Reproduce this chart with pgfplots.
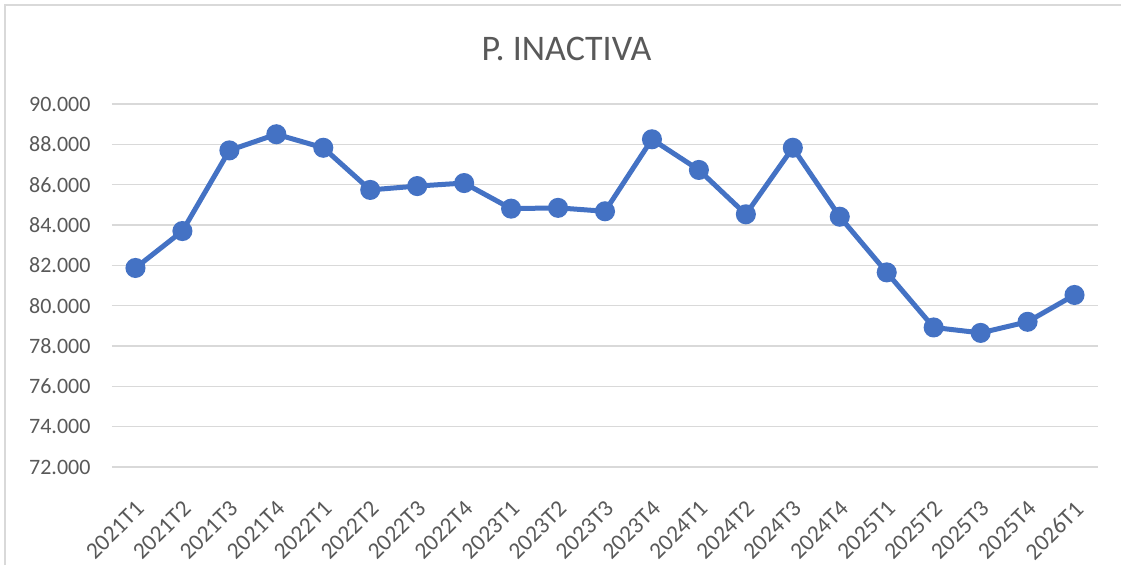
\documentclass[border=0pt]{standalone}
\usepackage{pgfplots}
\pgfplotsset{compat=1.18}
\usepackage{fontspec}
\setmainfont{Carlito}
\definecolor{linecol}{HTML}{4472C4}
\definecolor{gridcol}{HTML}{D9D9D9}
\definecolor{textcol}{HTML}{595959}
\begin{document}
\begin{tikzpicture}
\begin{axis}[
  anchor=south west, at={(0pt,0pt)},
  scale only axis, width=986pt, height=363pt,
  xmin=-0.5, xmax=20.5, ymin=72, ymax=90,
  ytick={72,74,...,90},
  xtick={0,...,20},
  xticklabels={2021T1,2021T2,2021T3,2021T4,2022T1,2022T2,2022T3,2022T4,2023T1,2023T2,2023T3,2023T4,2024T1,2024T2,2024T3,2024T4,2025T1,2025T2,2025T3,2025T4,2026T1},
  x tick label style={font=\fontsize{23.5}{28}\selectfont, text=textcol, inner sep=1pt, yshift=-31pt, xshift=-1pt, rotate=45, anchor=north east},
  y tick label style={font=\fontsize{22}{26}\selectfont, text=textcol, xshift=-18pt},
  /pgf/number format/assume math mode=true,
  yticklabel style={/pgf/number format/.cd, fixed, fixed zerofill, precision=3},
  ymajorgrids, grid style={gridcol, line width=1.5pt},
  axis line style={draw=none},
  major tick length=0pt,
  clip=false,
]
\addplot[linecol, line width=5pt, mark=*, mark size=7.5pt, mark options={fill=linecol, draw=none}] coordinates {
(0,81.87) (1,83.70) (2,87.70) (3,88.50) (4,87.83) (5,85.74) (6,85.93) (7,86.08)
(8,84.81) (9,84.85) (10,84.68) (11,88.25) (12,86.73) (13,84.53) (14,87.83) (15,84.41)
(16,81.65) (17,78.92) (18,78.65) (19,79.20) (20,80.53)
};
\end{axis}
\useasboundingbox (-112pt,-98pt) rectangle (1009pt,467pt);
\draw[gridcol, line width=1.5pt] (-107pt,-98pt) -- (-107pt,462pt) -- (1009pt,462pt);
\node[textcol, font=\fontsize{36}{42}\selectfont] at (454.5pt,418pt) {P. INACTIVA};
\end{tikzpicture}
\end{document}
